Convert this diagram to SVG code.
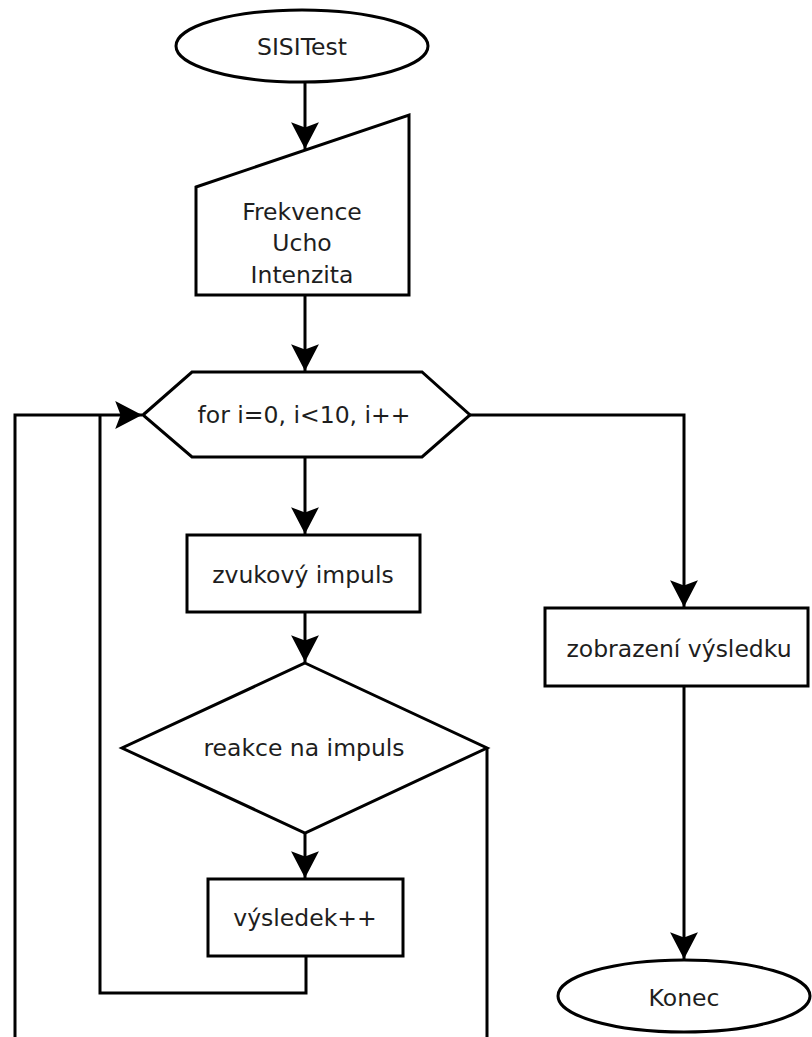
<svg xmlns="http://www.w3.org/2000/svg" width="812" height="1037" viewBox="0 0 812 1037">
  <defs>
    <style>
      .shape { fill: #ffffff; stroke: #000000; stroke-width: 3; stroke-linejoin: miter; }
      .edge { fill: none; stroke: #000000; stroke-width: 3; stroke-linejoin: miter; }
      .label { font-family: "DejaVu Sans", "Liberation Sans", sans-serif; font-size: 23.5px; fill: #1e1e1e; text-anchor: middle; dominant-baseline: central; }
    </style>
    <marker id="arrow" markerUnits="userSpaceOnUse" markerWidth="30" markerHeight="30" viewBox="-26 -14 28 28" refX="0" refY="0" orient="auto">
      <path d="M0,0 L-25,-13 L-20,0 L-25,13 Z" fill="#000000"/>
    </marker>
  </defs>
  <rect width="812" height="1037" fill="#ffffff"/>

  <!-- connectors -->
  <g id="connectors">
    <path class="edge" d="M305,82 L305,149" marker-end="url(#arrow)"/>
    <path class="edge" d="M305,295 L305,371" marker-end="url(#arrow)"/>
    <path class="edge" d="M305,457 L305,534" marker-end="url(#arrow)"/>
    <path class="edge" d="M305,612 L305,662" marker-end="url(#arrow)"/>
    <path class="edge" d="M305,833 L305,878" marker-end="url(#arrow)"/>
    <path class="edge" d="M306,956 L306,993 L100,993 L100,415"/>
    <path class="edge" d="M487,748 L487,1040"/>
    <path class="edge" d="M15,1040 L15,415 L142,415" marker-end="url(#arrow)"/>
    <path class="edge" d="M470,415 L684,415 L684,607" marker-end="url(#arrow)"/>
    <path class="edge" d="M684,686 L684,959" marker-end="url(#arrow)"/>
  </g>

  <!-- start terminal -->
  <g id="start">
    <ellipse class="shape" cx="302" cy="46" rx="126" ry="36"/>
    <text class="label" x="302" y="47">SISITest</text>
  </g>

  <!-- manual input -->
  <g id="input">
    <polygon class="shape" points="196,187 409,115 409,295 196,295"/>
    <text class="label" x="302" y="212">Frekvence</text>
    <text class="label" x="302" y="243">Ucho</text>
    <text class="label" x="302" y="275">Intenzita</text>
  </g>

  <!-- loop header -->
  <g id="loop">
    <polygon class="shape" points="143,415 192,372 422,372 470,415 422,457 192,457"/>
    <text class="label" x="304" y="415">for i=0, i&lt;10, i++</text>
  </g>

  <!-- sound impulse -->
  <g id="impulse">
    <rect class="shape" x="187" y="535" width="233" height="77"/>
    <text class="label" x="303" y="575">zvukový impuls</text>
  </g>

  <!-- reaction decision -->
  <g id="reaction">
    <polygon class="shape" points="305,663 487,748 305,833 122,748"/>
    <text class="label" x="304" y="748">reakce na impuls</text>
  </g>

  <!-- result increment -->
  <g id="increment">
    <rect class="shape" x="208" y="879" width="195" height="77"/>
    <text class="label" x="305" y="918">výsledek++</text>
  </g>

  <!-- show result -->
  <g id="display">
    <rect class="shape" x="545" y="608" width="263" height="78"/>
    <text class="label" x="679" y="649">zobrazení výsledku</text>
  </g>

  <!-- end terminal -->
  <g id="end">
    <ellipse class="shape" cx="684" cy="996" rx="126" ry="36"/>
    <text class="label" x="684" y="998">Konec</text>
  </g>
</svg>
